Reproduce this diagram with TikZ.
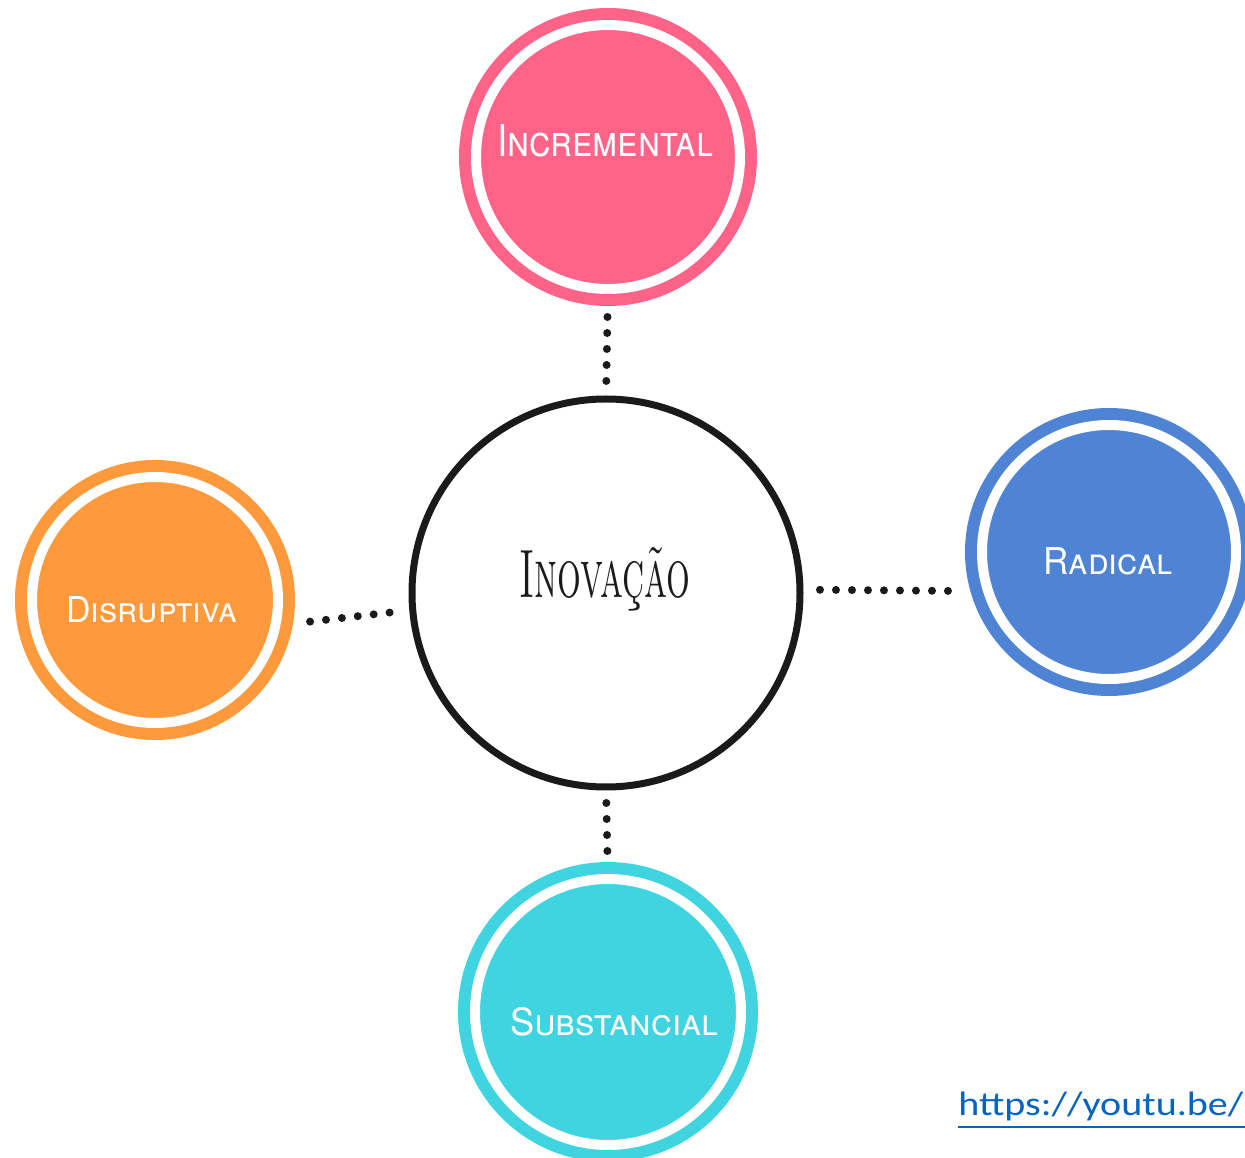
\documentclass[tikz,border=0pt]{standalone}
\usepackage{fontspec}
\setsansfont{TeX Gyre Heros}
\newfontfamily\linkfont{Carlito}
\definecolor{incrpink}{HTML}{FF6388}
\definecolor{radblue}{HTML}{4F83D3}
\definecolor{disrorange}{HTML}{FE9A3B}
\definecolor{subcyan}{HTML}{40D3E0}
\definecolor{inkblack}{HTML}{1A1A1A}
\definecolor{linkblue}{HTML}{0563C1}
\newdimen\U
\U=0.02cm
\tikzset{
  ring/.style={circle, inner sep=0pt, outer sep=0pt, fill=#1, draw=#1,
    double=white, double distance=10\U, line width=12\U},
  tag/.style={anchor=base, inner sep=0pt, text=white, font=\sffamily\scshape},
  dots/.style={inkblack, line width=8\U, line cap=round, dash pattern=on 0pt off 16\U},
}

\begin{document}
\begin{tikzpicture}[x=0.02cm, y=-0.02cm]
\useasboundingbox (0,0) rectangle (1245,1158);
% centre
\node (inov) at (606,593) [circle, inner sep=0pt, outer sep=0pt, draw=inkblack,
  line width=7\U, minimum size=388\U] {};
\node (inovt) at (605,598) [anchor=base, inner sep=0pt, text=inkblack,
  font=\rmfamily\scshape] {\resizebox{171\U}{50\U}{Inovação}};
% the four kinds
\node (incr) at (608,157) [ring=incrpink, minimum size=264\U] {};
\node (incrt) at (605,157) [tag] {\resizebox{216\U}{32\U}{Incremental}};
\node (rad) at (1109,552) [ring=radblue, minimum size=254\U] {};
\node (radt) at (1108,575) [tag] {\resizebox{129\U}{27\U}{Radical}};
\node (disr) at (155,600) [ring=disrorange, minimum size=246\U] {};
\node (disrt) at (152,623) [tag] {\resizebox{171\U}{26\U}{Disruptiva}};
\node (sub) at (608,1012) [ring=subcyan, minimum size=266\U] {};
\node (subt) at (614,1035) [tag] {\resizebox{208\U}{28\U}{Substancial}};
% dotted links
\draw [dots, shorten <=28\U, shorten >=17\U] (incr.south) -- (inov.north);
\draw [dots, shorten <=20\U, shorten >=39\U] (inov.1) -- (rad.198);
\draw [dots, shorten <=16\U, shorten >=27\U] (inov.south) -- (sub.north);
\draw [dots, shorten <=35\U, shorten >=22\U] (disr.-12) -- (inov.185);
% link
\node (url) at (958,1115) [anchor=base west, inner sep=0pt, text=linkblue,
  font=\linkfont] {\resizebox{285\U}{23.5\U}{https://youtu.be/}};
\draw [linkblue, line width=2.5\U] (url.base west) ++(0,12) -- ++(300,0);
\end{tikzpicture}
\end{document}
